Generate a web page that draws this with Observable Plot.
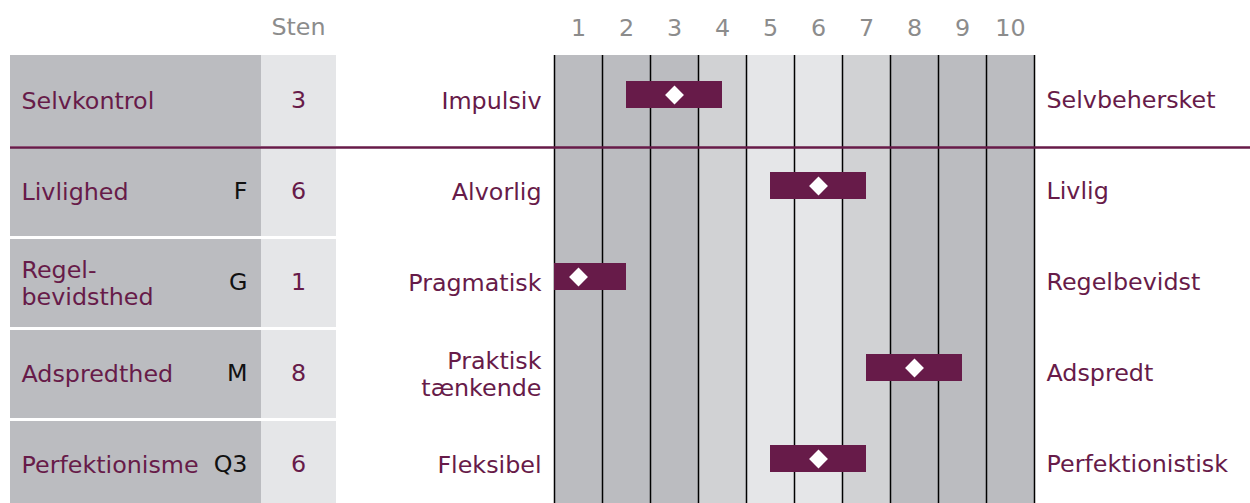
<!DOCTYPE html>
<html><head><meta charset="utf-8">
<script src="https://cdn.jsdelivr.net/npm/d3@7"></script>
<script src="https://cdn.jsdelivr.net/npm/@observablehq/plot@0.6"></script>
<style>html,body{margin:0;padding:0;overflow:hidden;background:#fff}#chart svg{display:block}</style>
</head><body><div id="chart"></div>
<script>
const traits = ["Selvkontrol", "Livlighed", "Regelbevidsthed", "Adspredthed", "Perfektionisme"];
const traitLabels = ["Selvkontrol", "Livlighed", "Regel-\nbevidsthed", "Adspredthed", "Perfektionisme"];
const factors = ["", "F", "G", "M", "Q3"];
const stenScores = [3, 6, 1, 8, 6];
const lowLabels = ["Impulsiv", "Alvorlig", "Pragmatisk", "Praktisk\ntænkende", "Fleksibel"];
const highLabels = ["Selvbehersket", "Livlig", "Regelbevidst", "Adspredt", "Perfektionistisk"];
const stenTicks = [1, 2, 3, 4, 5, 6, 7, 8, 9, 10];
const stenZones = ["ydre", "ydre", "ydre", "mellem", "midt", "midt", "mellem", "ydre", "ydre", "ydre"];
const headerLabel = "Sten";

const PURPLE = "#671b49";
const DARK = "#bbbcc0", MID = "#d1d2d4", LIGHT = "#e5e6e8";

const rows = traits.map((t, i) => ({
  trait: t, label: traitLabels[i], factor: factors[i], sten: stenScores[i],
  low: lowLabels[i], high: highLabels[i]
}));
const cols = stenTicks.map((s, i) => ({s, zone: stenZones[i]}));
const bounds = [stenTicks[0] - 0.5, ...stenTicks.map(s => s + 0.5)];
const lo = bounds[0], hi = bounds[bounds.length - 1];

const chart = Plot.plot({
  width: 1250, height: 503,
  marginLeft: 554, marginRight: 216, marginTop: 55, marginBottom: 0,
  style: {fontFamily: "DejaVu Sans", fontSize: "23.8px", background: "#fff"},
  x: {domain: [lo, hi], axis: null},
  y: {type: "band", domain: traits, range: [57, 509], paddingInner: 3 / 91, paddingOuter: 0, axis: null},
  color: {type: "ordinal", domain: ["ydre", "mellem", "midt"], range: [DARK, MID, LIGHT]},
  marks: [
    // grid column shading
    Plot.rect(cols, {x1: d => d.s - 0.5, x2: d => d.s + 0.5, fill: "zone"}),
    Plot.ruleX(bounds, {stroke: "#000", strokeWidth: 1.5}),
    // left table
    Plot.cell(rows.slice(0, 1), {y: "trait", fill: DARK, insetLeft: -544, insetRight: 773, insetTop: -2, insetBottom: -1}),
    Plot.cell(rows.slice(0, 1), {y: "trait", fill: LIGHT, insetLeft: -293, insetRight: 698, insetTop: -2, insetBottom: -1}),
    Plot.cell(rows.slice(1), {y: "trait", fill: DARK, insetLeft: -544, insetRight: 773}),
    Plot.cell(rows.slice(1), {y: "trait", fill: LIGHT, insetLeft: -293, insetRight: 698}),
    // bars and diamonds
    Plot.barX(rows, {y: "trait", x1: d => Math.max(lo, d.sten - 1), x2: d => Math.min(hi, d.sten + 1),
      fill: PURPLE, insetTop: 24, insetBottom: 37}),
    Plot.dot(rows, {x: "sten", y: "trait", symbol: "diamond2", r: 8.5, fill: "#fff", stroke: "none", dy: -6.5}),
    // separator
    Plot.ruleY([traits[0]], {y: d => d, dy: 46, insetLeft: -544, insetRight: -216, stroke: PURPLE, strokeWidth: 2.5}),
    // header texts
    Plot.text([headerLabel], {text: d => d, frameAnchor: "top-left", textAnchor: "middle", lineAnchor: "middle", dx: -256, dy: -28, fill: "#8c8c8c"}),
    Plot.text(stenTicks, {x: d => d, text: d => String(d), frameAnchor: "top", lineAnchor: "middle", dy: -27, fill: "#8c8c8c"}),
    // row texts
    Plot.text(rows, {y: "trait", text: "label", frameAnchor: "left", dx: -533, dy: -1, textAnchor: "start", fill: PURPLE, lineHeight: 1.17}),
    Plot.text(rows, {y: "trait", text: "factor", frameAnchor: "left", dx: -307, dy: -1, textAnchor: "end", fill: "#111"}),
    Plot.text(rows, {y: "trait", text: d => String(d.sten), frameAnchor: "left", dx: -256, dy: -1, textAnchor: "middle", fill: PURPLE}),
    Plot.text(rows, {y: "trait", text: "low", frameAnchor: "left", dx: -13, dy: -1, textAnchor: "end", fill: PURPLE, lineHeight: 1.17}),
    Plot.text(rows, {y: "trait", text: "high", frameAnchor: "right", dx: 12, dy: -1, textAnchor: "start", fill: PURPLE})
  ]
});
document.getElementById("chart").append(chart);
</script>
</body></html>
